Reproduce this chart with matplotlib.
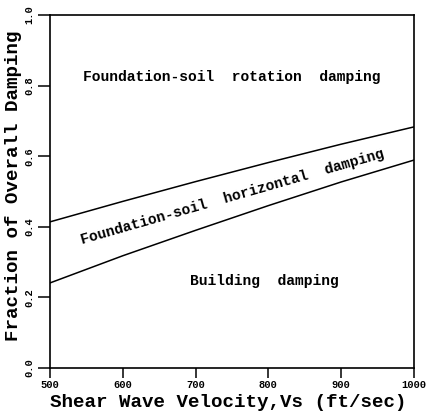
import matplotlib
matplotlib.use('Agg')
import matplotlib.pyplot as plt

# shear wave velocity (ft/sec)
vs = [500, 600, 700, 800, 900, 1000]
# boundary between foundation-soil rotation and horizontal damping
upper = [0.414, 0.472, 0.528, 0.582, 0.634, 0.683]
# boundary between horizontal damping and building damping
lower = [0.241, 0.318, 0.390, 0.460, 0.527, 0.589]

x_ticks = [500, 600, 700, 800, 900, 1000]
y_ticks = [0.0, 0.2, 0.4, 0.6, 0.8, 1.0]

mono = 'Liberation Mono'

fig = plt.figure(figsize=(4.33, 4.12), dpi=100)
ax = fig.add_axes([0.1155, 0.1068, 0.8405, 0.8568])

ax.plot(vs, upper, color='black', linewidth=1.1)
ax.plot(vs, lower, color='black', linewidth=1.1)

ax.set_xlim(500, 1000)
ax.set_ylim(0, 1.0)
ax.set_xticks(x_ticks)
ax.set_xticklabels([str(t) for t in x_ticks], fontsize=7.5, fontweight='bold', family=mono)
ax.set_yticks(y_ticks)
ax.set_yticklabels([f"{t:.1f}" for t in y_ticks], fontsize=7.5, fontweight='bold',
                   family=mono, rotation=90, va='center')
ax.tick_params(axis='x', direction='out', length=7, width=1.1, pad=2)
ax.tick_params(axis='y', direction='out', length=8.5, width=1.1, pad=3)

for s in ax.spines.values():
    s.set_linewidth(1.2)

ax.set_xlabel("Shear Wave Velocity,Vs (ft/sec)", fontsize=13.8, fontweight='bold',
              family=mono, va='center')
ax.set_ylabel("Fraction of Overall Damping", fontsize=13.8, fontweight='bold',
              family=mono, va='center')
ax.xaxis.set_label_coords(0.49, -0.097)
ax.yaxis.set_label_coords(-0.1, 0.515)

ax.text(750, 0.824, "Foundation-soil  rotation  damping", ha='center', va='center',
        fontsize=10.5, fontweight='bold', family=mono)
ax.text(751, 0.486, "Foundation-soil  horizontal  damping", ha='center', va='center',
        fontsize=10.5, fontweight='bold', family=mono, rotation=16)
ax.text(795, 0.246, "Building  damping", ha='center', va='center',
        fontsize=10.5, fontweight='bold', family=mono)

fig.savefig('out.png', dpi=100)
